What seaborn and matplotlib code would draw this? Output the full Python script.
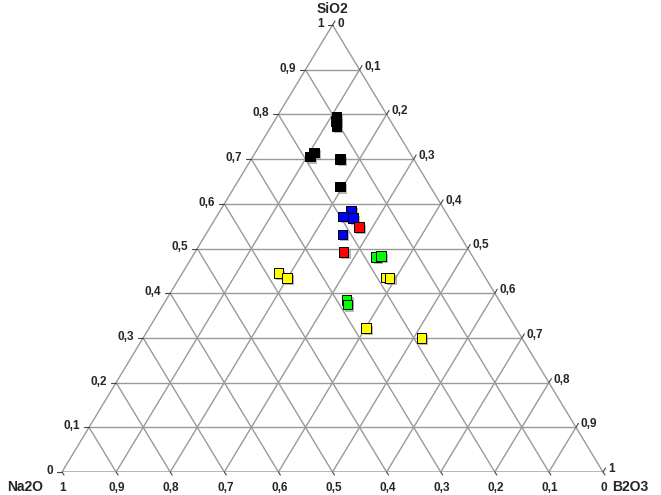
import numpy as np
import pandas as pd
import matplotlib
matplotlib.use('Agg')
import matplotlib.pyplot as plt
import matplotlib.patheffects as pe
import seaborn as sns

# compositions (fractions)
group = ['k'] * 7 + ['b'] * 4 + ['r'] * 2 + ['g'] * 4 + ['y'] * 6
sio2 = [0.796, 0.785, 0.774, 0.705, 0.714, 0.700, 0.638,
        0.584, 0.571, 0.568, 0.532,
        0.548, 0.492,
        0.481, 0.483, 0.385, 0.374,
        0.445, 0.434, 0.436, 0.434, 0.322, 0.300]
b2o3 = [0.109, 0.114, 0.120, 0.106, 0.109, 0.164, 0.195,
        0.242, 0.234, 0.254, 0.253,
        0.275, 0.275,
        0.340, 0.348, 0.334, 0.340,
        0.177, 0.199, 0.381, 0.389, 0.401, 0.515]
na2o = [0.095, 0.101, 0.106, 0.189, 0.177, 0.136, 0.167,
        0.174, 0.195, 0.178, 0.215,
        0.177, 0.233,
        0.179, 0.169, 0.281, 0.286,
        0.378, 0.367, 0.183, 0.177, 0.277, 0.185]
colors = {'k': '#000000', 'b': '#0000ff', 'r': '#ff0000', 'g': '#00ff00', 'y': '#ffff00'}
tick_vals = [round(i / 10, 1) for i in range(11)]

df = pd.DataFrame({'group': group, 'SiO2': sio2, 'B2O3': b2o3, 'Na2O': na2o})
df['x'] = df['B2O3'] + 0.5 * df['SiO2']
df['y'] = df['SiO2']

sns.set_style('white')
plt.rcParams['font.family'] = ['Liberation Sans', 'DejaVu Sans']

fig = plt.figure(figsize=(6.61, 4.95), dpi=100)
ax = fig.add_axes([62 / 661, 23 / 495, 541 / 661, 447 / 495])
ax.set_xlim(0, 1)
ax.set_ylim(0, 1)
ax.axis('off')

px = 1 / 541
py = 1 / 447
gc = '#9a9a9a'

# triangle + grid
ax.plot([0, 1, 0.5, 0], [0, 0, 1, 0], color=gc, lw=1, zorder=1)
for v in tick_vals[1:-1]:
    ax.plot([0.5 * v, 1 - 0.5 * v], [v, v], color=gc, lw=1, zorder=1)
    ax.plot([v, 0.5 + 0.5 * v], [0, 1 - v], color=gc, lw=1, zorder=1)
    ax.plot([0.5 * (1 - v), 1 - v], [1 - v, 0], color=gc, lw=1, zorder=1)

fmt = lambda v: ('%g' % v).replace('.', ',')
tc = '#444444'
fs = 8.5
for v in tick_vals:
    # left edge: SiO2
    x0, y0 = 0.5 * v, v
    ax.plot([x0 - 5 * px, x0], [y0, y0], color=tc, lw=0.8, clip_on=False)
    ax.text(x0 - 9 * px, y0 + 1 * py, fmt(v), ha='right', va='center',
            fontsize=fs, fontweight='bold')
    # right edge: B2O3
    x1, y1 = 0.5 + 0.5 * v, 1 - v
    ax.plot([x1, x1 + 2.5 * px], [y1, y1 + 4 * py], color=tc, lw=0.8, clip_on=False)
    dy = 1 if v == 0 else 3
    ax.text(x1 + 5 * px, y1 + dy * py, fmt(v), ha='left', va='center',
            fontsize=fs, fontweight='bold')
    # bottom edge: Na2O
    x2 = 1 - v
    ax.plot([x2, x2 + 2 * px], [0, -3 * py], color=tc, lw=0.8, clip_on=False)
    ax.text(x2 + 1 * px, -16 * py, fmt(v), ha='center', va='center',
            fontsize=fs, fontweight='bold')

ax.text(0.5, 1 + 16 * py, 'SiO2', ha='center', va='center', fontsize=10, fontweight='bold')
ax.text(-37 * px, -15 * py, 'Na2O', ha='center', va='center', fontsize=10, fontweight='bold')
ax.text(1 + 27 * px, -15 * py, 'B2O3', ha='center', va='center', fontsize=10, fontweight='bold')

sns.scatterplot(data=df, x='x', y='y', hue='group', palette=colors, marker='s',
                s=44, edgecolor='black', linewidth=0.7, legend=False, ax=ax,
                zorder=3, clip_on=False)
for coll in ax.collections:
    coll.set_path_effects([pe.SimplePatchShadow(offset=(1.5, -1.5), shadow_rgbFace='#888888', alpha=0.6),
                           pe.Normal()])

fig.savefig('out.png', dpi=100)
